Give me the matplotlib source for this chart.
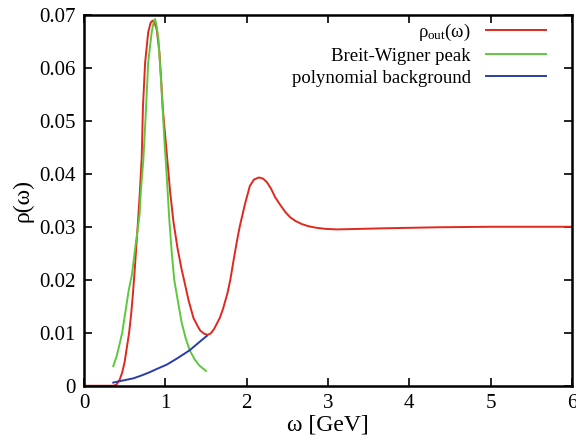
import matplotlib
matplotlib.use("Agg")
import matplotlib.pyplot as plt

plt.rcParams['font.family'] = ['Liberation Serif', 'DejaVu Serif']
plt.rcParams['mathtext.fontset'] = 'custom'
plt.rcParams['mathtext.rm'] = 'Liberation Serif'
plt.rcParams['mathtext.it'] = 'Liberation Serif'

# rho_out(omega)
w_out = [0.0, 0.2, 0.36, 0.40, 0.44, 0.47, 0.50, 0.53, 0.555, 0.58, 0.60, 0.62, 0.64,
         0.66, 0.685, 0.71, 0.725, 0.752, 0.79, 0.82, 0.845, 0.87, 0.895, 0.927, 0.95,
         0.968, 1.0, 1.025, 1.06, 1.10, 1.15, 1.20, 1.23, 1.285, 1.346, 1.40, 1.43, 1.48,
         1.52, 1.56, 1.60, 1.63, 1.67, 1.71, 1.765, 1.80, 1.84, 1.88, 1.915, 1.98, 2.04,
         2.09, 2.15, 2.20, 2.25, 2.30, 2.35, 2.41, 2.475, 2.535, 2.60, 2.68, 2.76, 2.86,
         2.97, 3.11, 3.40, 3.65, 4.0, 4.35, 5.0, 6.0]
rho_out = [0.0, 0.0, 0.0, 0.0002, 0.0012, 0.0025, 0.0045, 0.0075, 0.0100, 0.0135, 0.0170,
           0.0210, 0.0255, 0.0300, 0.0360, 0.0430, 0.0525, 0.0610, 0.0667, 0.0685, 0.0689,
           0.0684, 0.0672, 0.0630, 0.0575, 0.0525, 0.0470, 0.0426, 0.0365, 0.0310, 0.0260,
           0.0220, 0.0200, 0.0162, 0.0128, 0.0112, 0.0104, 0.0098, 0.0096, 0.0099, 0.0107,
           0.0116, 0.0128, 0.0145, 0.0175, 0.0200, 0.0237, 0.0272, 0.0300, 0.0343, 0.0377,
           0.0389, 0.0393, 0.0391, 0.0384, 0.0372, 0.0356, 0.0342, 0.0328, 0.0318, 0.0311,
           0.0305, 0.0301, 0.0298, 0.0296, 0.0295, 0.0296, 0.0297, 0.0298, 0.0299, 0.0300,
           0.0300]

# Breit-Wigner peak
w_bw = [0.36, 0.40, 0.44, 0.47, 0.505, 0.55, 0.59, 0.63, 0.665, 0.685, 0.70, 0.73, 0.763,
        0.79, 0.833, 0.855, 0.873, 0.89, 0.915, 0.944, 0.965, 0.99, 1.01, 1.05, 1.08, 1.11,
        1.16, 1.20, 1.25, 1.30, 1.36, 1.42, 1.50]
rho_bw = [0.0037, 0.0055, 0.0080, 0.0100, 0.0135, 0.0180, 0.0210, 0.0260, 0.0300, 0.0325,
          0.0369, 0.0426, 0.0523, 0.0611, 0.0667, 0.0685, 0.0692, 0.0682, 0.0655, 0.0585,
          0.0530, 0.0460, 0.0415, 0.0312, 0.0250, 0.0200, 0.0155, 0.0120, 0.0090, 0.0067,
          0.0050, 0.0038, 0.0028]

# polynomial background
w_bg = [0.36, 0.45, 0.607, 0.70, 0.80, 0.90, 1.02, 1.15, 1.30, 1.40, 1.51]
rho_bg = [0.0006, 0.0009, 0.0014, 0.0019, 0.0025, 0.0032, 0.0040, 0.0052, 0.0067, 0.0080,
          0.0094]

fig = plt.figure(figsize=(5.76, 4.47), dpi=100)
ax = fig.add_axes([0.1458, 0.137, 0.847, 0.830])

ax.plot(w_out, rho_out, color='#e0281e', lw=1.4, label=r'$\rho_{\rm out}(\omega)$')
ax.plot(w_bw, rho_bw, color='#5ec83c', lw=1.4, label='Breit-Wigner peak')
ax.plot(w_bg, rho_bg, color='#2a3ca8', lw=1.4, label='polynomial background')

ax.set_xlim(0, 6)
ax.set_ylim(0, 0.07)
ax.set_xticks([0, 1, 2, 3, 4, 5, 6])
ax.set_yticks([0, 0.01, 0.02, 0.03, 0.04, 0.05, 0.06, 0.07])
ax.set_yticklabels(['0', '0.01', '0.02', '0.03', '0.04', '0.05', '0.06', '0.07'])
ax.tick_params(direction='in', top=True, right=True, length=6, width=1.2,
               labelsize=15, pad=6)
for s in ax.spines.values():
    s.set_linewidth(1.8)

ax.set_xlabel('ω [GeV]', fontsize=17, labelpad=1)
ax.set_ylabel('ρ(ω)', fontsize=17, labelpad=4)

leg = ax.legend(loc='upper right', frameon=False, markerfirst=False, fontsize=13.5,
                handlelength=3.2, handletextpad=0.8, labelspacing=0.25,
                bbox_to_anchor=(0.981, 1.026))
for t in leg.get_texts():
    t.set_ha('right')

fig.savefig('out.png', dpi=100)
